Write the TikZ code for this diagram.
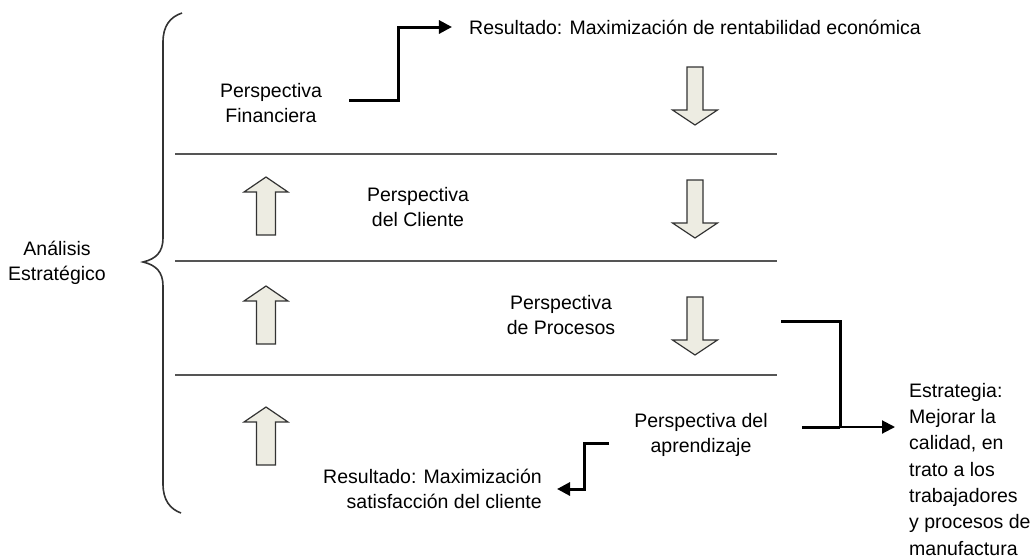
\documentclass[tikz,border=0pt]{standalone}
\usepackage{fontspec}
\setmainfont{Liberation Sans}
\usetikzlibrary{arrows.meta}
\definecolor{fillbeige}{HTML}{EDECE2}
\definecolor{rulegray}{HTML}{555555}
\tikzset{
  txt/.style={inner sep=0pt, align=center, font=\fontsize{19.5}{25.5}\selectfont},
  conn/.style={line width=3pt, black},
  tipconn/.style={line width=3pt, black, -{Triangle[length=13pt,width=13pt]}},
  thinconn/.style={line width=2pt, black, -{Triangle[length=13pt,width=13pt]}},
  rule/.style={line width=1.5pt, rulegray},
  hollow/.style={draw=black!80, line width=1.2pt, fill=fillbeige, line join=miter},
  uparrow/.pic={\path[hollow] (0,-29) -- (22,-14) -- (9.5,-14) -- (9.5,29) -- (-9.5,29) -- (-9.5,-14) -- (-22,-14) -- cycle;},
  downarrow/.pic={\path[hollow] (0,29) -- (22.5,14) -- (8,14) -- (8,-29) -- (-8,-29) -- (-8,14) -- (-22.5,14) -- cycle;}
}
\begin{document}
\begin{tikzpicture}[x=1pt,y=-1pt]
\useasboundingbox (0,0) rectangle (1032,555);
% brace
\draw[line width=1.6pt, black!80] (182,13) .. controls (170,17) and (163,26) .. (163,42) -- (163,238) .. controls (163,252) and (156,259) .. (143,262) .. controls (156,265) and (163,272) .. (163,286) -- (163,484) .. controls (163,500) and (170,509) .. (181,513);
% horizontal rules
\draw[rule] (175,154) -- (777,154);
\draw[rule] (175,261) -- (777,261);
\draw[rule] (175,375) -- (777,375);
% hollow arrows
\pic at (695,96) {downarrow};
\pic at (695,209) {downarrow};
\pic at (695,326) {downarrow};
\pic at (266,206) {uparrow};
\pic at (266,315) {uparrow};
\pic at (266,436) {uparrow};
% texts
\node[txt] (ana) at (57,263) {Análisis\\Estratégico};
\node[txt] (fin) at (271,103) {Perspectiva\\Financiera};
\node[txt] (res1) at (695,27) {Resultado: Maximización de rentabilidad económica};
\node[txt] (cli) at (418,207) {Perspectiva\\del Cliente};
\node[txt] (proc) at (561,315) {Perspectiva\\de Procesos};
\node[txt] (apr) at (701,435) {Perspectiva del\\aprendizaje};
\node[txt, align=right, anchor=east] (sat) at (542,489) {Resultado: Maximización\\satisfacción del cliente};
\node[txt, align=left, anchor=north west, font=\fontsize{19.5}{26.3}\selectfont] (estr) at (909,383) {Estrategia:\\Mejorar la\\calidad, en\\trato a los\\trabajadores\\y procesos de\\manufactura};
% connectors
\coordinate (j) at (840,427);
\draw[tipconn] ([xshift=27pt,yshift=3pt]fin.east) -- ++(49,0) |- ([xshift=-17pt]res1.west);
\draw[conn] ([xshift=166pt,yshift=-6pt]proc.east) -| (j);
\draw[conn] ([xshift=34pt,yshift=8pt]apr.east) -- (j);
\draw[thinconn] (j) -- ([xshift=-14pt]estr.west |- j);
\draw[tipconn] ([xshift=-25pt,yshift=-8pt]apr.west) -- ++(-25,0) |- ([xshift=15pt]sat.east);
\end{tikzpicture}
\end{document}
